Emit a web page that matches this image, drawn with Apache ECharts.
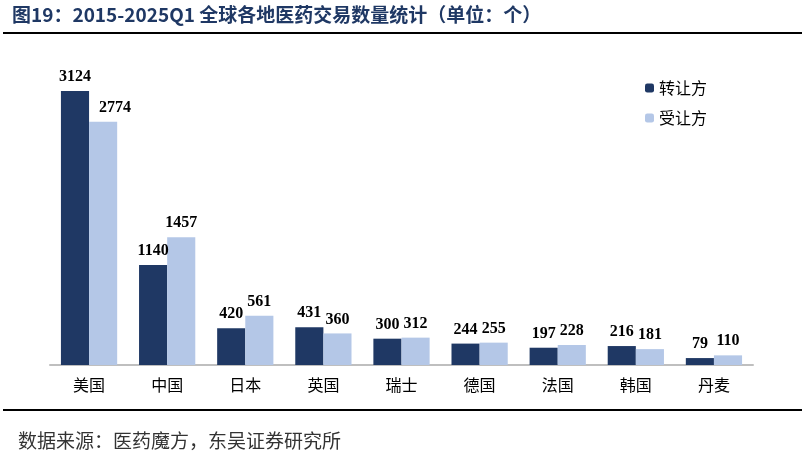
<!DOCTYPE html>
<html><head><meta charset="utf-8">
<script src="https://cdn.jsdelivr.net/npm/echarts@6/dist/echarts.min.js"></script>
<style>html,body{margin:0;padding:0;background:#fff}#c{width:805px;height:458px}</style>
</head><body><div id="c"></div>
<script>
const categories = ['美国','中国','日本','英国','瑞士','德国','法国','韩国','丹麦'];
const transferor = [3124,1140,420,431,300,244,197,216,79];
const transferee = [2774,1457,561,360,312,255,228,181,110];
const seriesNames = ['转让方','受让方'];
const titleText = '图19：2015-2025Q1 全球各地医药交易数量统计（单位：个）';
const sourceText = '数据来源：医药魔方，东吴证券研究所';

const chart = echarts.init(document.getElementById('c'));
const labelStyle = {show:true, position:'top', distance:6, color:'#000', fontFamily:'Liberation Serif', fontWeight:'bold', fontSize:16};
// the first light-blue label is nudged right in the original to clear the tall dark bar
const transfereeData = transferee.map((v, i) => i === 0 ? {value:v, label:{offset:[12,0]}} : v);
chart.setOption({
  animation:false,
  grid:{left:50, right:52, top:58, bottom:93},
  legend:{
    orient:'vertical', left:640, top:75, itemWidth:9, itemHeight:9, itemGap:14,
    textStyle:{fontFamily:'Noto Sans CJK SC', fontSize:16, color:'#000'},
    data:seriesNames
  },
  xAxis:{
    type:'category', data:categories,
    axisLine:{lineStyle:{color:'#bfbfbf', width:2}},
    axisTick:{show:false},
    axisLabel:{fontFamily:'Noto Sans CJK SC', fontSize:16, color:'#000', margin:12}
  },
  yAxis:{type:'value', min:0, max:3500, show:false, splitLine:{show:false}},
  series:[
    {name:seriesNames[0], type:'bar', data:transferor, barGap:'0%', barCategoryGap:'28%', itemStyle:{color:'#1f3864'}, label:labelStyle},
    {name:seriesNames[1], type:'bar', data:transfereeData, barGap:'0%', barCategoryGap:'28%', itemStyle:{color:'#b4c7e7'}, label:labelStyle}
  ],
  graphic:[
    {type:'text', left:12, top:5, style:{text:titleText, fontFamily:'Noto Sans CJK SC', fontWeight:'bold', fontSize:19, fill:'#1f3864'}},
    {type:'rect', shape:{x:3, y:32, width:799, height:2}, style:{fill:'#000'}},
    {type:'rect', shape:{x:3, y:409, width:799, height:2}, style:{fill:'#000'}},
    {type:'text', left:18, top:431, style:{text:sourceText, fontFamily:'Noto Sans CJK SC', fontSize:19, fill:'#333'}}
  ]
});
</script></body></html>
